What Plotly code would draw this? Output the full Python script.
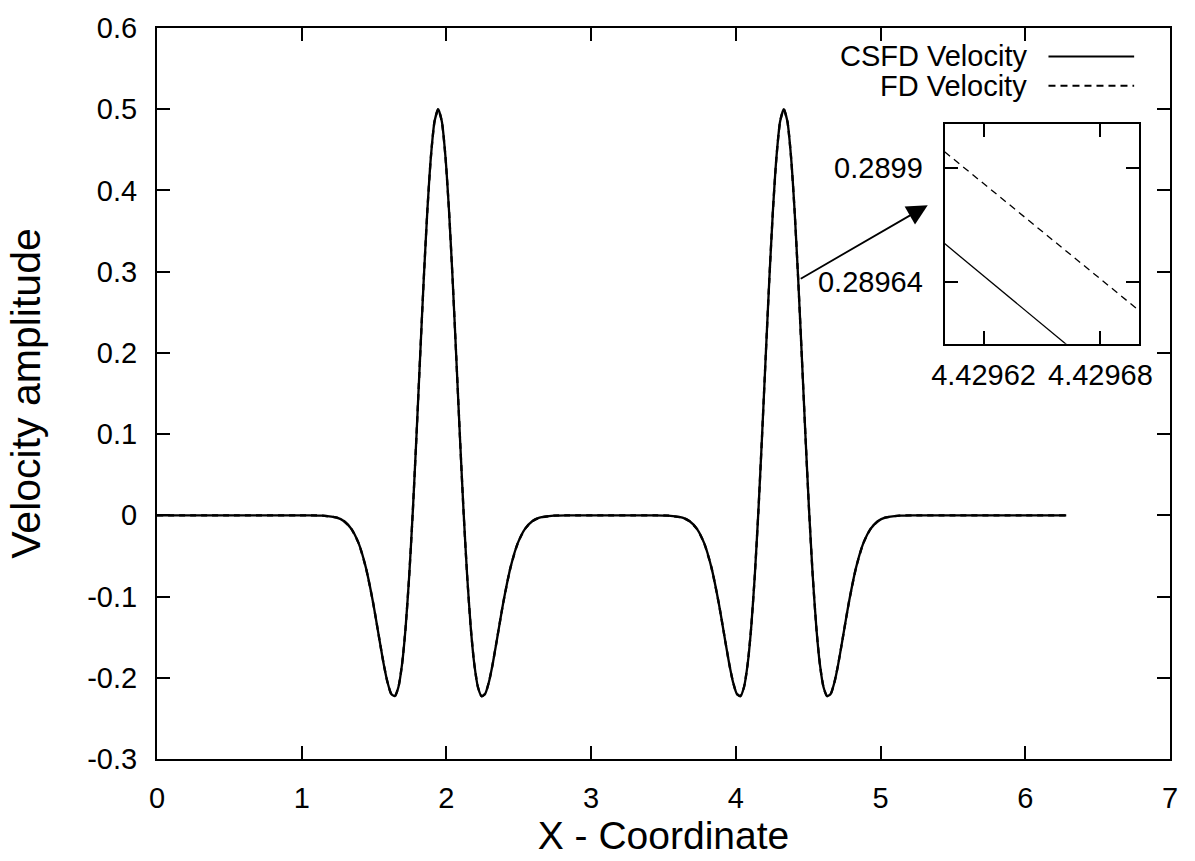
import plotly.graph_objects as go

# ---------------- data ----------------
x_coord = [
    0.0, 0.5, 1.0,
    1.043, 1.143, 1.243, 1.293, 1.343, 1.393, 1.443, 1.493, 1.543, 1.568, 1.593, 1.618,
    1.643, 1.668, 1.693, 1.718, 1.743, 1.768, 1.793, 1.818, 1.843, 1.868, 1.893, 1.918,
    1.943, 1.968, 1.993, 2.018, 2.043, 2.068, 2.093, 2.118, 2.143, 2.168, 2.193, 2.218,
    2.243, 2.268, 2.293, 2.318, 2.343, 2.393, 2.443, 2.493, 2.543, 2.593, 2.643, 2.743, 2.843,
    3.1, 3.3,
    3.431, 3.531, 3.631, 3.681, 3.731, 3.781, 3.831, 3.881, 3.931, 3.956, 3.981, 4.006,
    4.031, 4.056, 4.081, 4.106, 4.131, 4.156, 4.181, 4.206, 4.231, 4.256, 4.281, 4.306,
    4.331, 4.356, 4.381, 4.406, 4.431, 4.456, 4.481, 4.506, 4.531, 4.556, 4.581, 4.606,
    4.631, 4.656, 4.681, 4.706, 4.731, 4.781, 4.831, 4.881, 4.931, 4.981, 5.031, 5.131, 5.231,
    5.5, 6.0, 6.283,
]

csfd_velocity = [
    0.0, 0.0, 0.0,
    0.0, -0.0004, -0.0029, -0.0073, -0.0166, -0.0343, -0.0641, -0.1073, -0.1592, -0.1845, -0.2057, -0.2196,
    -0.2227, -0.2117, -0.1839, -0.1379, -0.0738, 0.0061, 0.0977, 0.1947, 0.2897, 0.3747, 0.4420, 0.4851,
    0.5000, 0.4851, 0.4420, 0.3747, 0.2897, 0.1947, 0.0977, 0.0061, -0.0738, -0.1379, -0.1839, -0.2117,
    -0.2227, -0.2196, -0.2057, -0.1845, -0.1592, -0.1073, -0.0641, -0.0343, -0.0166, -0.0073, -0.0029, -0.0004, 0.0,
    0.0, 0.0,
    0.0, -0.0004, -0.0029, -0.0073, -0.0166, -0.0343, -0.0641, -0.1073, -0.1592, -0.1845, -0.2057, -0.2196,
    -0.2227, -0.2117, -0.1839, -0.1379, -0.0738, 0.0061, 0.0977, 0.1947, 0.2897, 0.3747, 0.4420, 0.4851,
    0.5000, 0.4851, 0.4420, 0.3747, 0.2897, 0.1947, 0.0977, 0.0061, -0.0738, -0.1379, -0.1839, -0.2117,
    -0.2227, -0.2196, -0.2057, -0.1845, -0.1592, -0.1073, -0.0641, -0.0343, -0.0166, -0.0073, -0.0029, -0.0004, 0.0,
    0.0, 0.0, 0.0,
]

fd_velocity = [
    0.0, 0.0, 0.0,
    0.0, -0.0004, -0.0029, -0.0073, -0.0166, -0.0343, -0.0641, -0.1073, -0.1592, -0.1845, -0.2057, -0.2196,
    -0.2227, -0.2117, -0.1839, -0.1379, -0.0738, 0.0061, 0.0977, 0.1947, 0.2897, 0.3747, 0.4420, 0.4851,
    0.5000, 0.4851, 0.4420, 0.3747, 0.2897, 0.1947, 0.0977, 0.0061, -0.0738, -0.1379, -0.1839, -0.2117,
    -0.2227, -0.2196, -0.2057, -0.1845, -0.1592, -0.1073, -0.0641, -0.0343, -0.0166, -0.0073, -0.0029, -0.0004, 0.0,
    0.0, 0.0,
    0.0, -0.0004, -0.0029, -0.0073, -0.0166, -0.0343, -0.0641, -0.1073, -0.1592, -0.1845, -0.2057, -0.2196,
    -0.2227, -0.2117, -0.1839, -0.1379, -0.0738, 0.0061, 0.0977, 0.1947, 0.2897, 0.3747, 0.4420, 0.4851,
    0.5000, 0.4851, 0.4420, 0.3747, 0.2897, 0.1947, 0.0977, 0.0061, -0.0738, -0.1379, -0.1839, -0.2117,
    -0.2227, -0.2196, -0.2057, -0.1845, -0.1592, -0.1073, -0.0641, -0.0343, -0.0166, -0.0073, -0.0029, -0.0004, 0.0,
    0.0, 0.0, 0.0,
]

# zoomed inset
inset_x = [4.4296, 4.4297]
inset_csfd = [0.289728, 0.289361]
inset_fd = [0.289937, 0.289575]

x_ticks = [0, 1, 2, 3, 4, 5, 6, 7]
y_ticks = [-0.3, -0.2, -0.1, 0, 0.1, 0.2, 0.3, 0.4, 0.5, 0.6]
y_tick_labels = ["-0.3", "-0.2", "-0.1", "0", "0.1", "0.2", "0.3", "0.4", "0.5", "0.6"]
inset_x_ticks = [4.42962, 4.42968]
inset_x_labels = ["4.42962", "4.42968"]
inset_y_ticks = [0.28964, 0.2899]
inset_y_labels = ["0.28964", "0.2899"]

series_names = ["CSFD Velocity", "FD Velocity"]

# ---------------- figure ----------------
FONT = "Liberation Sans, Arial, Helvetica, sans-serif"
W, H = 1195, 861
L, R, T, B = 157, 21, 21, 94
pw = W - L - R
ph = H - T - B


def px_to_paper(px, py):
    return (px - L) / pw, (H - B - py) / ph


fig = go.Figure()
fig.add_trace(go.Scatter(x=x_coord, y=csfd_velocity, mode="lines", name=series_names[0],
                         line=dict(color="black", width=2.3, shape="spline", smoothing=0.6),
                         showlegend=False))
fig.add_trace(go.Scatter(x=x_coord, y=fd_velocity, mode="lines", name=series_names[1],
                         line=dict(color="black", width=2.3, dash="6px,5px", shape="spline", smoothing=0.6),
                         showlegend=False))
fig.add_trace(go.Scatter(x=inset_x, y=inset_csfd, mode="lines", xaxis="x2", yaxis="y2",
                         line=dict(color="black", width=1.3), showlegend=False))
fig.add_trace(go.Scatter(x=inset_x, y=inset_fd, mode="lines", xaxis="x2", yaxis="y2",
                         line=dict(color="black", width=1.3, dash="7px,5px"), showlegend=False))

axis_common = dict(showline=True, linecolor="black", linewidth=2, mirror="ticks",
                   ticks="inside", ticklen=13, tickwidth=2, tickcolor="black",
                   showgrid=False, zeroline=False,
                   tickfont=dict(family=FONT, size=29, color="black"))

inset_left, inset_right, inset_top, inset_bottom = 947.7, 1143.3, 119, 343.3
ix0, iy0 = px_to_paper(inset_left, inset_bottom)
ix1, iy1 = px_to_paper(inset_right, inset_top)

fig.update_layout(
    width=W, height=H,
    margin=dict(l=L, r=R, t=T, b=B),
    paper_bgcolor="white", plot_bgcolor="white",
    xaxis=dict(range=[0, 7], tickvals=x_ticks, ticklabelstandoff=12,
               title=dict(text="X - Coordinate", font=dict(family=FONT, size=39, color="black"), standoff=8),
               **axis_common),
    yaxis=dict(range=[-0.3, 0.6], tickvals=y_ticks, ticktext=y_tick_labels, ticklabelstandoff=12,
               title=dict(text="Velocity amplitude", font=dict(family=FONT, size=41, color="black"), standoff=34),
               **axis_common),
    xaxis2=dict(range=[4.4296, 4.4297], tickvals=inset_x_ticks, ticktext=inset_x_labels,
                domain=[ix0, ix1], anchor="y2", ticklabelstandoff=4, **axis_common),
    yaxis2=dict(range=[0.2895, 0.29], tickvals=inset_y_ticks, ticktext=inset_y_labels,
                domain=[iy0, iy1], anchor="x2", ticklabelstandoff=14, **axis_common),
    showlegend=False,
)

# gnuplot-style key: text right-aligned, sample line to the right
legend_rows = [50, 80]
for name, yy, dash in zip(series_names, legend_rows, ["solid", "7px,5px"]):
    tx, ty = px_to_paper(1032, yy)
    lx0, _ = px_to_paper(1052, yy)
    lx1, _ = px_to_paper(1138, yy)
    fig.add_annotation(x=tx, y=ty, xref="paper", yref="paper",
                       text=name, showarrow=False, xanchor="right", yanchor="middle",
                       font=dict(family=FONT, size=29, color="black"))
    fig.add_shape(type="line", xref="paper", yref="paper",
                  x0=lx0, x1=lx1, y0=ty, y1=ty,
                  line=dict(color="black", width=2, dash=dash))

# arrow from curve to inset
fig.add_annotation(x=5.326, y=0.3819, xref="x", yref="y",
                   ax=4.438, ay=0.2903, axref="x", ayref="y",
                   showarrow=True, arrowhead=2, arrowsize=2.3, arrowwidth=1.8,
                   arrowcolor="black", text="")

fig.write_html("out.html")
